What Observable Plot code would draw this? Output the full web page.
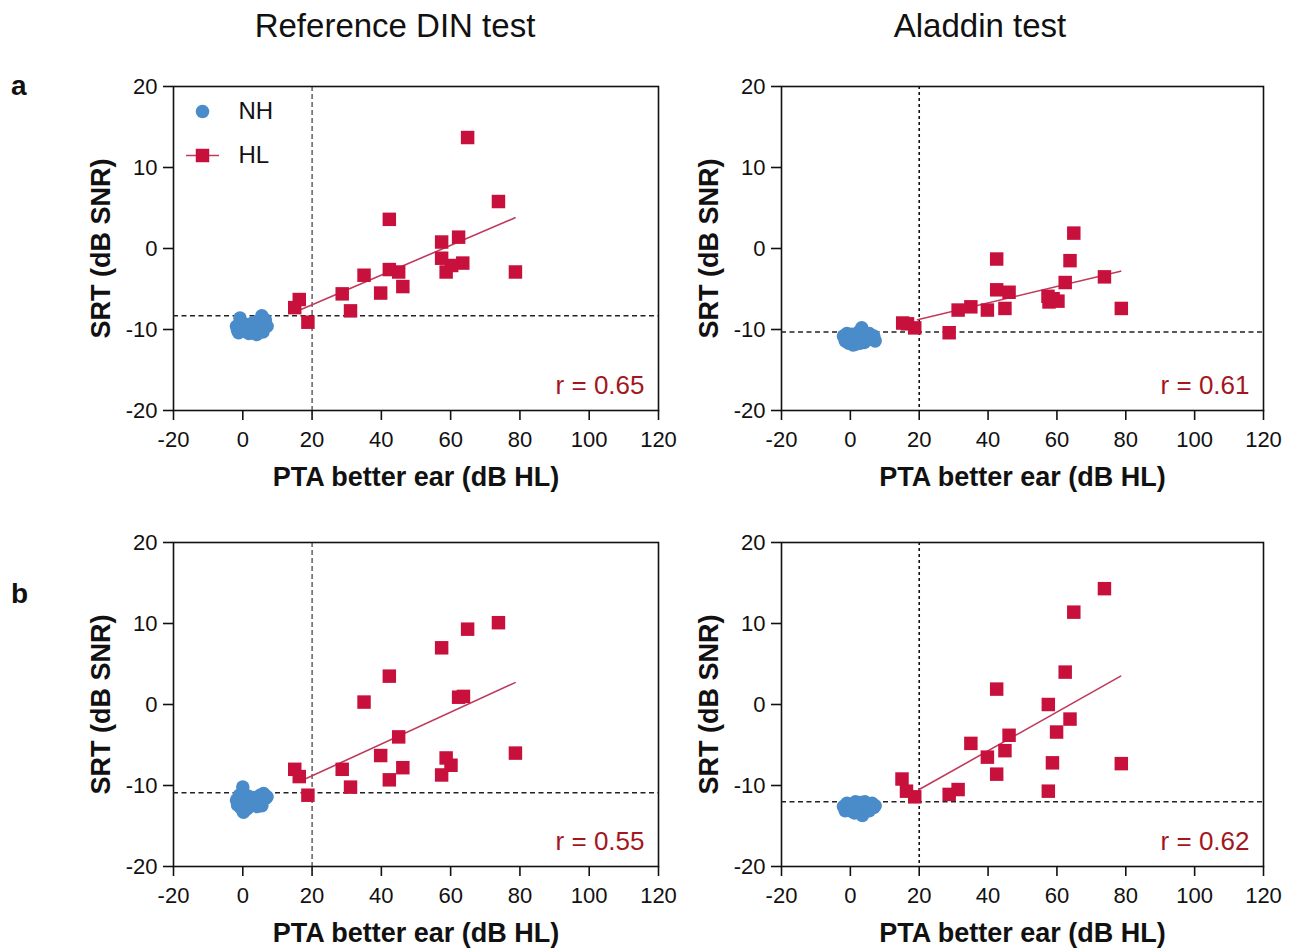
<!DOCTYPE html>
<html><head><meta charset="utf-8">
<script src="https://cdn.jsdelivr.net/npm/d3@7"></script>
<script src="https://cdn.jsdelivr.net/npm/@observablehq/plot@0.6"></script>
<style>
body{margin:0;background:#fff;overflow:hidden;font-family:"Liberation Sans",Arial,sans-serif;}
#root{position:relative;width:1299px;height:948px;}
.panel{position:absolute;}
.coltitle{position:absolute;font-size:33px;color:#111;transform:translateX(-50%);white-space:nowrap;line-height:1;}
.letter{position:absolute;font-size:28px;font-weight:bold;color:#111;line-height:1;}
</style></head><body><div id="root"></div>
<script>
// ---------- data ----------
const columnTitles = ["Reference DIN test", "Aladdin test"];
const rowLetters = ["a", "b"];
const xTicks = [-20, 0, 20, 40, 60, 80, 100, 120];
const yTicks = [-20, -10, 0, 10, 20];
const xTitle = "PTA better ear (dB HL)";
const yTitle = "SRT (dB SNR)";
const legendLabels = ["NH", "HL"];
const ptaCutoff = 20;

// Panel a – Reference DIN test
const aDinNH_x = [-1.8,-1.5,-0.8,-0.5,0,0.5,1,1.5,2.2,2.8,3.2,3.5,4,4.5,5,5.5,6,6.5,7,5.8,-1.2,1.8,3.8];
const aDinNH_y = [-9.6,-10.1,-8.6,-9.3,-10.2,-9.8,-9.4,-10.0,-9.7,-9.2,-10.3,-9.5,-10.6,-9.0,-9.9,-8.3,-9.4,-8.8,-9.6,-10.3,-10.4,-10.5,-10.2];
const aDinHL_x = [64.9,73.8,42.3,57.4,62.3,57.4,63.5,60.3,58.7,78.7,42.3,45.0,35.0,46.2,39.8,28.7,31.1,16.3,15.0,18.8];
const aDinHL_y = [13.7,5.8,3.6,0.8,1.4,-1.2,-1.8,-2.1,-2.9,-2.9,-2.6,-2.9,-3.3,-4.7,-5.5,-5.6,-7.7,-6.3,-7.3,-9.1];
const aDinFit_x = [17.0, 78.6];
const aDinFit_y = [-7.5, 3.8];
const aDinCut = -8.3;
const aDinR = "r = 0.65";

// Panel a – Aladdin test
const aAlaNH_x = [-2,-1.5,-1,-0.5,0,0.5,1,1.5,2,2.5,3,3.3,3.8,4,4.5,5,5.5,6,6.8,7.2,0.8,2.8];
const aAlaNH_y = [-10.8,-11.4,-10.5,-11.7,-11.0,-10.6,-11.3,-11.8,-10.9,-10.3,-11.2,-9.8,-10.6,-11.6,-10.9,-11.3,-10.5,-11.1,-10.8,-11.4,-11.9,-11.7];
const aAlaHL_x = [64.9,42.5,63.8,73.8,62.4,42.5,46.1,57.4,58.9,57.7,60.3,35.0,31.3,39.8,44.9,78.7,15.2,16.6,18.7,28.7];
const aAlaHL_y = [1.9,-1.3,-1.5,-3.5,-4.2,-5.1,-5.4,-5.9,-6.2,-6.6,-6.5,-7.2,-7.6,-7.6,-7.4,-7.4,-9.2,-9.3,-9.8,-10.4];
const aAlaFit_x = [19.5, 78.5];
const aAlaFit_y = [-8.8, -2.8];
const aAlaCut = -10.3;
const aAlaR = "r = 0.61";

// Panel b – Reference DIN test
const bDinNH_x = [-1.8,-1.5,-1,-0.5,0,0.2,0.5,1,1.5,2,2.5,3,3.5,4,4.5,5,5.5,6,6.5,7,1.2,4.2];
const bDinNH_y = [-11.8,-12.4,-11.2,-12.8,-10.2,-13.3,-11.6,-12.2,-11.3,-12.6,-11.9,-11.5,-12.3,-11.8,-12.1,-11.2,-12.5,-11.0,-11.6,-11.4,-12.9,-12.6];
const bDinHL_x = [73.8,64.9,57.4,42.3,35.0,62.3,63.7,45.0,78.7,39.8,58.7,60.1,46.2,28.7,57.4,42.3,31.1,15.0,16.3,18.8];
const bDinHL_y = [10.1,9.3,7.0,3.5,0.3,0.9,1.0,-4.0,-6.0,-6.3,-6.6,-7.5,-7.8,-8.0,-8.7,-9.3,-10.2,-8.0,-8.9,-11.2];
const bDinFit_x = [17.5, 78.6];
const bDinFit_y = [-9.3, 2.7];
const bDinCut = -10.9;
const bDinR = "r = 0.55";

// Panel b – Aladdin test
const bAlaNH_x = [-2,-1.5,-1,-0.5,0,0.5,1,1.5,2,2.5,3,3.5,3.8,4.2,4.8,5.2,5.8,6.3,6.8,7.2,1.2,5.5];
const bAlaNH_y = [-12.6,-13.1,-12.2,-12.9,-12.4,-13.2,-12.7,-12.0,-12.9,-13.3,-12.1,-13.7,-12.6,-12.0,-13.0,-12.4,-12.8,-12.2,-12.7,-12.5,-13.4,-13.1];
const bAlaHL_x = [73.8,64.9,62.4,42.5,57.5,63.8,59.9,46.1,35.0,44.9,39.8,58.7,78.7,42.5,57.5,31.3,28.7,15.0,16.3,18.7];
const bAlaHL_y = [14.3,11.4,4.0,1.9,0.0,-1.8,-3.4,-3.8,-4.8,-5.7,-6.5,-7.2,-7.3,-8.6,-10.7,-10.5,-11.1,-9.2,-10.7,-11.4];
const bAlaFit_x = [20.0, 78.5];
const bAlaFit_y = [-10.5, 3.5];
const bAlaCut = -12.0;
const bAlaR = "r = 0.62";

// ---------- styling ----------
const BLUE = "#4a8bc9";
const RED = "#c8103c";
const LINE = "#bf3a5c";
const RTXT = "#a3161d";
const FONT = "'Liberation Sans', Arial, sans-serif";

const zip = (xs, ys) => xs.map((x, i) => ({x, y: ys[i]}));

const panels = [
  {row: 0, col: 0, nh: zip(aDinNH_x, aDinNH_y), hl: zip(aDinHL_x, aDinHL_y), fit: zip(aDinFit_x, aDinFit_y), cut: aDinCut, r: aDinR, legend: true},
  {row: 0, col: 1, nh: zip(aAlaNH_x, aAlaNH_y), hl: zip(aAlaHL_x, aAlaHL_y), fit: zip(aAlaFit_x, aAlaFit_y), cut: aAlaCut, r: aAlaR},
  {row: 1, col: 0, nh: zip(bDinNH_x, bDinNH_y), hl: zip(bDinHL_x, bDinHL_y), fit: zip(bDinFit_x, bDinFit_y), cut: bDinCut, r: bDinR},
  {row: 1, col: 1, nh: zip(bAlaNH_x, bAlaNH_y), hl: zip(bAlaHL_x, bAlaHL_y), fit: zip(bAlaFit_x, bAlaFit_y), cut: bAlaCut, r: bAlaR}
];

const colGeom = [
  {left: 0, width: 690, marginLeft: 173, marginRight: 32},
  {left: 600, width: 699, marginLeft: 181, marginRight: 36}
];
const rowTop = [60, 516];

const lineSymbol = {draw(ctx) { ctx.moveTo(-16.5, 0); ctx.lineTo(16.5, 0); }};

const root = document.getElementById("root");

for (const p of panels) {
  const g = colGeom[p.col];
  const marks = [
    Plot.frame({stroke: "#111", strokeWidth: 1.6}),
    Plot.ruleX([ptaCutoff], {stroke: "#111", strokeWidth: p.col === 0 ? 1 : 1.6, strokeDasharray: p.col === 0 ? "5,3" : "3,3"}),
    Plot.ruleY([p.cut], {stroke: "#222", strokeWidth: 1.5, strokeDasharray: "5,3.5"}),
    Plot.axisX({ticks: xTicks, tickSize: 10, tickPadding: 11, fontSize: 22, tickFormat: d => String(d), label: null, strokeWidth: 1.6}),
    Plot.axisY({ticks: yTicks, tickSize: 10, tickPadding: 6, fontSize: 22, tickFormat: d => String(d), label: null, strokeWidth: 1.6}),
    Plot.dot(p.nh, {x: "x", y: "y", r: 6.8, fill: BLUE, stroke: null}),
    Plot.line(p.fit, {x: "x", y: "y", stroke: LINE, strokeWidth: 1.6}),
    Plot.dot(p.hl, {x: "x", y: "y", symbol: "square", r: 7.6, fill: RED, stroke: null}),
    Plot.text([p.r], {frameAnchor: "bottom-right", dx: -14, dy: -17, fill: RTXT, fontSize: 26, textAnchor: "end", lineAnchor: "bottom"}),
    Plot.text([xTitle], {frameAnchor: "bottom", dy: 75, fontSize: 27, fontWeight: "bold", fill: "#111", lineAnchor: "bottom", textAnchor: "middle"}),
    Plot.text([yTitle], {frameAnchor: "left", dx: -72, rotate: -90, fontSize: 27, fontWeight: "bold", fill: "#111", textAnchor: "middle", lineAnchor: "middle"})
  ];
  if (p.legend) {
    marks.push(
      Plot.dot([legendLabels[0]], {frameAnchor: "top-left", dx: 29, dy: 25, r: 6.8, fill: BLUE}),
      Plot.text([legendLabels[0]], {frameAnchor: "top-left", dx: 65, dy: 25, fontSize: 24, fill: "#111", textAnchor: "start", lineAnchor: "middle"}),
      Plot.dot([legendLabels[1]], {frameAnchor: "top-left", dx: 29, dy: 69, symbol: lineSymbol, stroke: LINE, strokeWidth: 1.6, fill: "none"}),
      Plot.dot([legendLabels[1]], {frameAnchor: "top-left", dx: 29, dy: 69, symbol: "square", r: 7.6, fill: RED}),
      Plot.text([legendLabels[1]], {frameAnchor: "top-left", dx: 65, dy: 69, fontSize: 24, fill: "#111", textAnchor: "start", lineAnchor: "middle"})
    );
  }
  const chart = Plot.plot({
    width: g.width,
    height: 430,
    marginLeft: g.marginLeft,
    marginRight: g.marginRight,
    marginTop: 26,
    marginBottom: 80,
    x: {domain: [-20, 120], label: null},
    y: {domain: [-20, 20], label: null},
    style: {fontFamily: FONT, fontSize: "22px", color: "#111", background: "transparent", overflow: "visible"},
    marks
  });
  const wrap = document.createElement("div");
  wrap.className = "panel";
  wrap.style.left = g.left + "px";
  wrap.style.top = rowTop[p.row] + "px";
  wrap.appendChild(chart);
  root.appendChild(wrap);
}

// column titles and row letters
const titleX = [395, 980];
columnTitles.forEach((t, i) => {
  const d = document.createElement("div");
  d.className = "coltitle";
  d.textContent = t;
  d.style.left = titleX[i] + "px";
  d.style.top = "9px";
  root.appendChild(d);
});
const letterY = [72, 580];
rowLetters.forEach((t, i) => {
  const d = document.createElement("div");
  d.className = "letter";
  d.textContent = t;
  d.style.left = "11px";
  d.style.top = letterY[i] + "px";
  root.appendChild(d);
});
</script>
</body></html>
